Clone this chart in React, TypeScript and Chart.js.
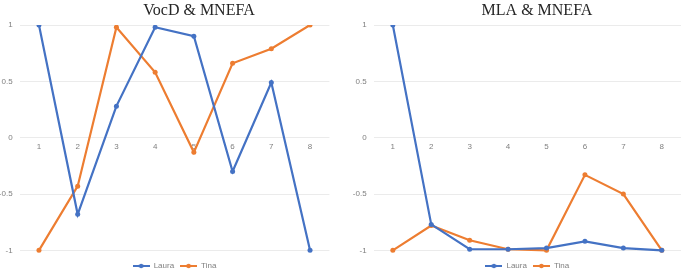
import React, { useEffect, useRef } from "react";
import { Chart, registerables } from "chart.js";

Chart.register(...registerables);

const categories = ["1", "2", "3", "4", "5", "6", "7", "8"];
const yTicks = [-1, -0.5, 0, 0.5, 1];
const seriesNames = ["Laura", "Tina"];
const seriesColors = ["#4472C4", "#ED7D31"];

const vocdTitle = "VocD & MNEFA";
const vocdLaura = [1, -0.68, 0.28, 0.98, 0.9, -0.3, 0.49, -1];
const vocdTina = [-1, -0.43, 0.98, 0.58, -0.13, 0.66, 0.79, 1];

const mlaTitle = "MLA & MNEFA";
const mlaLaura = [1, -0.77, -0.99, -0.99, -0.98, -0.92, -0.98, -1];
const mlaTina = [-1, -0.78, -0.91, -0.99, -1, -0.33, -0.5, -1];

function makeMarker(color: string): HTMLCanvasElement {
  const c = document.createElement("canvas");
  c.width = 17;
  c.height = 6;
  const ctx = c.getContext("2d")!;
  ctx.strokeStyle = color;
  ctx.lineWidth = 2;
  ctx.beginPath();
  ctx.moveTo(0, 3);
  ctx.lineTo(17, 3);
  ctx.stroke();
  ctx.fillStyle = color;
  ctx.beginPath();
  ctx.arc(8.5, 3, 2.3, 0, Math.PI * 2);
  ctx.fill();
  return c;
}

type PanelProps = {
  title: string;
  laura: number[];
  tina: number[];
  width: number;
  yWidth: number;
  padRight: number;
  titleX: number;
};

function Panel({ title, laura, tina, width, yWidth, padRight, titleX }: PanelProps) {
  const ref = useRef<HTMLCanvasElement>(null);
  useEffect(() => {
    if (!ref.current) return;
    const markers = seriesColors.map(makeMarker);
    const titlePlugin = {
      id: "customTitle",
      afterDraw(chart: any) {
        const ctx = chart.ctx;
        ctx.save();
        ctx.font = '16px "Liberation Serif"';
        ctx.fillStyle = "#262626";
        ctx.textAlign = "center";
        ctx.textBaseline = "alphabetic";
        ctx.fillText(title, titleX, 15);
        ctx.restore();
      },
    };
    const tickFont = { family: '"Liberation Sans", Arial, sans-serif', size: 8 };
    const chart = new Chart(ref.current, {
      type: "line",
      data: {
        labels: categories,
        datasets: [laura, tina].map((d, i) => ({
          label: seriesNames[i],
          data: d,
          borderColor: seriesColors[i],
          backgroundColor: seriesColors[i],
          borderWidth: 2.2,
          pointRadius: 2.5,
          pointBorderWidth: 0,
          pointBackgroundColor: seriesColors[i],
          tension: 0,
        })),
      },
      options: {
        animation: false,
        responsive: false,
        maintainAspectRatio: false,
        layout: { padding: { top: 25, bottom: -10, left: 0, right: padRight } },
        scales: {
          x: {
            type: "category",
            offset: true,
            position: { y: 0 } as any,
            grid: { display: false, drawTicks: false },
            border: { display: false },
            ticks: { font: tickFont, color: "#7F7F7F", padding: 4, maxRotation: 0 },
          },
          y: {
            min: -1.05,
            max: 1,
            afterBuildTicks: (s: any) => {
              s.ticks = yTicks.map((v) => ({ value: v }));
            },
            afterFit: (s: any) => {
              s.width = yWidth;
            },
            grid: { color: "#EBEBEB", lineWidth: 1, drawTicks: false },
            border: { display: false },
            ticks: {
              font: tickFont,
              color: "#7F7F7F",
              padding: 7,
              callback: (v: any) => String(v),
            },
          },
        },
        plugins: {
          title: { display: false },
          tooltip: { enabled: false },
          legend: {
            display: true,
            position: "bottom",
            fullSize: false,
            labels: {
              usePointStyle: true,
              pointStyleWidth: 17,
              padding: 6,
              color: "#7F7F7F",
              font: tickFont,
              generateLabels: (ch: any) => {
                const items = Chart.defaults.plugins.legend.labels.generateLabels(ch);
                items.forEach((it: any, i: number) => {
                  it.pointStyle = markers[i];
                });
                return items;
              },
            },
          },
        },
      },
      plugins: [titlePlugin],
    } as any);
    return () => chart.destroy();
  }, []);
  return <canvas ref={ref} width={width} height={270} style={{ display: "block", width, height: 270 }} />;
}

export default function App() {
  return (
    <div style={{ position: "absolute", left: 0, top: 0, width: 685, height: 270, background: "#fff", display: "flex" }}>
      <Panel title={vocdTitle} laura={vocdLaura} tina={vocdTina} width={345} yWidth={19.6} padRight={15.6} titleX={199} />
      <Panel title={mlaTitle} laura={mlaLaura} tina={mlaTina} width={340} yWidth={28.6} padRight={2} titleX={192} />
    </div>
  );
}
